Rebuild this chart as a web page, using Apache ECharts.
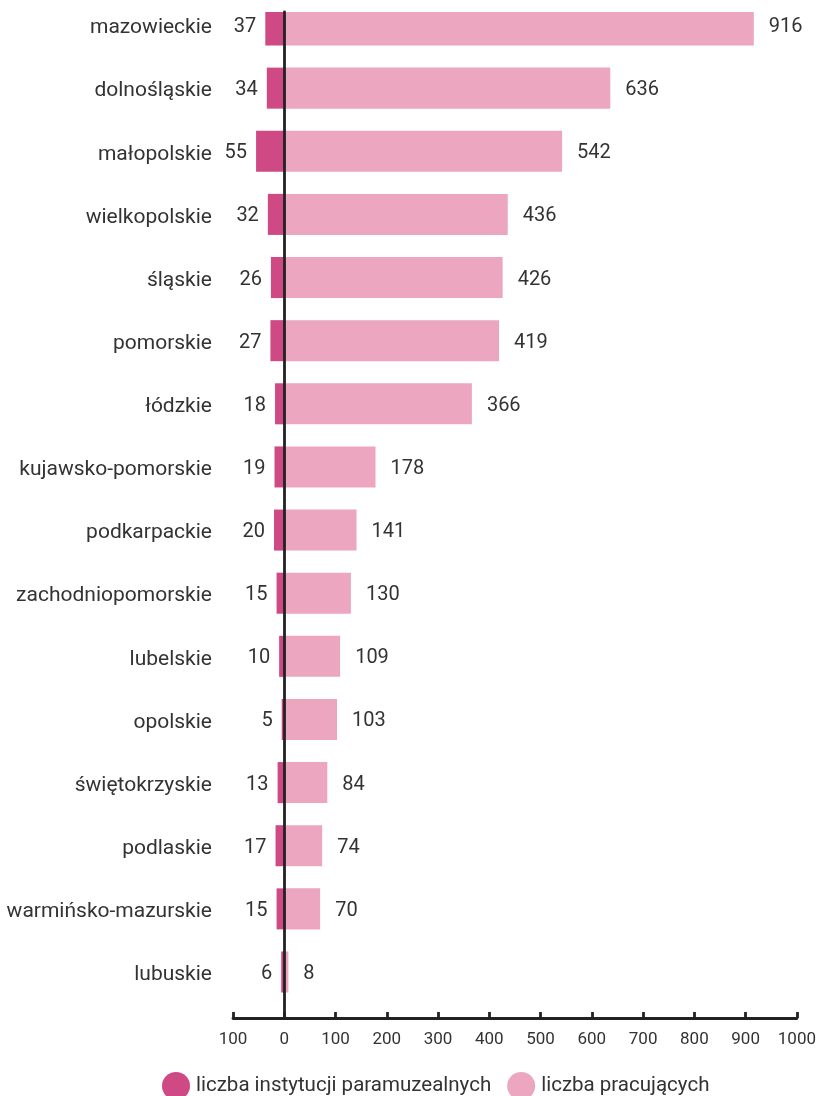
<!DOCTYPE html>
<html>
<head>
<meta charset="utf-8">
<script src="https://cdn.jsdelivr.net/npm/echarts@6/dist/echarts.min.js"></script>
<style>
html,body{margin:0;padding:0;background:#fff;}
#chart{width:819px;height:1096px;}
</style>
</head>
<body>
<div id="chart"></div>
<script>
const categories = ['mazowieckie','dolnośląskie','małopolskie','wielkopolskie','śląskie','pomorskie','łódzkie','kujawsko-pomorskie','podkarpackie','zachodniopomorskie','lubelskie','opolskie','świętokrzyskie','podlaskie','warmińsko-mazurskie','lubuskie'];
const institutions = [37,34,55,32,26,27,18,19,20,15,10,5,13,17,15,6];
const workers = [916,636,542,436,426,419,366,178,141,130,109,103,84,74,70,8];
const xTicks = [-100,0,100,200,300,400,500,600,700,800,900,1000];
const seriesNames = ['liczba instytucji paramuzealnych','liczba pracujących'];

const FONT = 'Roboto, "Noto Sans", sans-serif';
const TEXT = '#333333';

function makeRender(side) {
  return function (params, api) {
    const v = api.value(0);
    const idx = api.value(1);
    const p0 = api.coord([0, idx]);
    const p1 = api.coord([v, idx]);
    const h = api.size([0, 1])[1] * 0.65;
    const cs = params.coordSys;
    let y0 = p0[1] - h / 2, y1 = p0[1] + h / 2;
    y0 = Math.max(y0, cs.y);
    y1 = Math.min(y1, cs.y + cs.height);
    const x0 = Math.min(p0[0], p1[0]);
    const w = Math.abs(p1[0] - p0[0]);
    const label = String(Math.abs(v));
    const text = side < 0
      ? {type:'text', x: x0 - 9, y: p0[1] + 2, style:{text: label, align:'right', verticalAlign:'middle', fill: TEXT, font: '20px ' + FONT}}
      : {type:'text', x: x0 + w + 15, y: p0[1] + 2, style:{text: label, align:'left', verticalAlign:'middle', fill: TEXT, font: '20px ' + FONT}};
    return {
      type: 'group',
      children: [
        {type:'rect', shape:{x: x0, y: y0, width: w, height: y1 - y0}, style: api.style()},
        text
      ]
    };
  };
}

const chart = echarts.init(document.getElementById('chart'), null, {renderer:'canvas'});
chart.setOption({
  animation: false,
  backgroundColor: '#ffffff',
  textStyle: {fontFamily: FONT},
  legend: {
    left: 157, top: 1067,
    icon: 'circle', itemWidth: 28, itemHeight: 28, itemGap: 16,
    textStyle: {fontSize: 20.5, color: TEXT, fontFamily: FONT, padding: [0,0,0,1]},
    data: seriesNames
  },
  grid: {left: 233, right: 22, top: 12, bottom: 78, containLabel: false},
  xAxis: {
    type: 'value', min: -100, max: 1000, interval: 100,
    axisLine: {show: true, onZero: false, lineStyle: {color: '#222222', width: 2.8}},
    axisTick: {show: true, inside: true, length: 6, lineStyle: {color: '#222222', width: 2.8}},
    axisLabel: {fontSize: 17, color: TEXT, margin: 13, fontFamily: FONT, showMinLabel: true, showMaxLabel: true,
      formatter: v => String(Math.abs(v))},
    splitLine: {show: false}
  },
  yAxis: [
    {
      type: 'value', inverse: true, min: -0.2059, max: 15.7286,
      axisLine: {show: false, onZero: false}, axisTick: {show: false}, splitLine: {show: false},
      axisLabel: {show: true, customValues: categories.map((c, i) => i), margin: 21, fontSize: 21, color: TEXT, fontFamily: FONT,
        verticalAlign: 'top', lineHeight: 6,
        formatter: v => categories[Math.round(v)] || ''}
    },
    {
      type: 'value', inverse: true, min: -0.2059, max: 15.7286, position: 'left', z: 10,
      axisLine: {show: true, onZero: true, lineStyle: {color: '#222222', width: 2.8}},
      axisTick: {show: false}, axisLabel: {show: false}, splitLine: {show: false}
    }
  ],
  series: [
    {
      name: seriesNames[0], type: 'custom', renderItem: makeRender(-1), yAxisIndex: 0,
      itemStyle: {color: '#cf4a85'},
      encode: {x: 0, y: 1},
      data: institutions.map((v, i) => [-v, i])
    },
    {
      name: seriesNames[1], type: 'custom', renderItem: makeRender(1), yAxisIndex: 0,
      itemStyle: {color: '#eda6c0'},
      encode: {x: 0, y: 1},
      data: workers.map((v, i) => [v, i])
    }
  ]
});
</script>
</body>
</html>
